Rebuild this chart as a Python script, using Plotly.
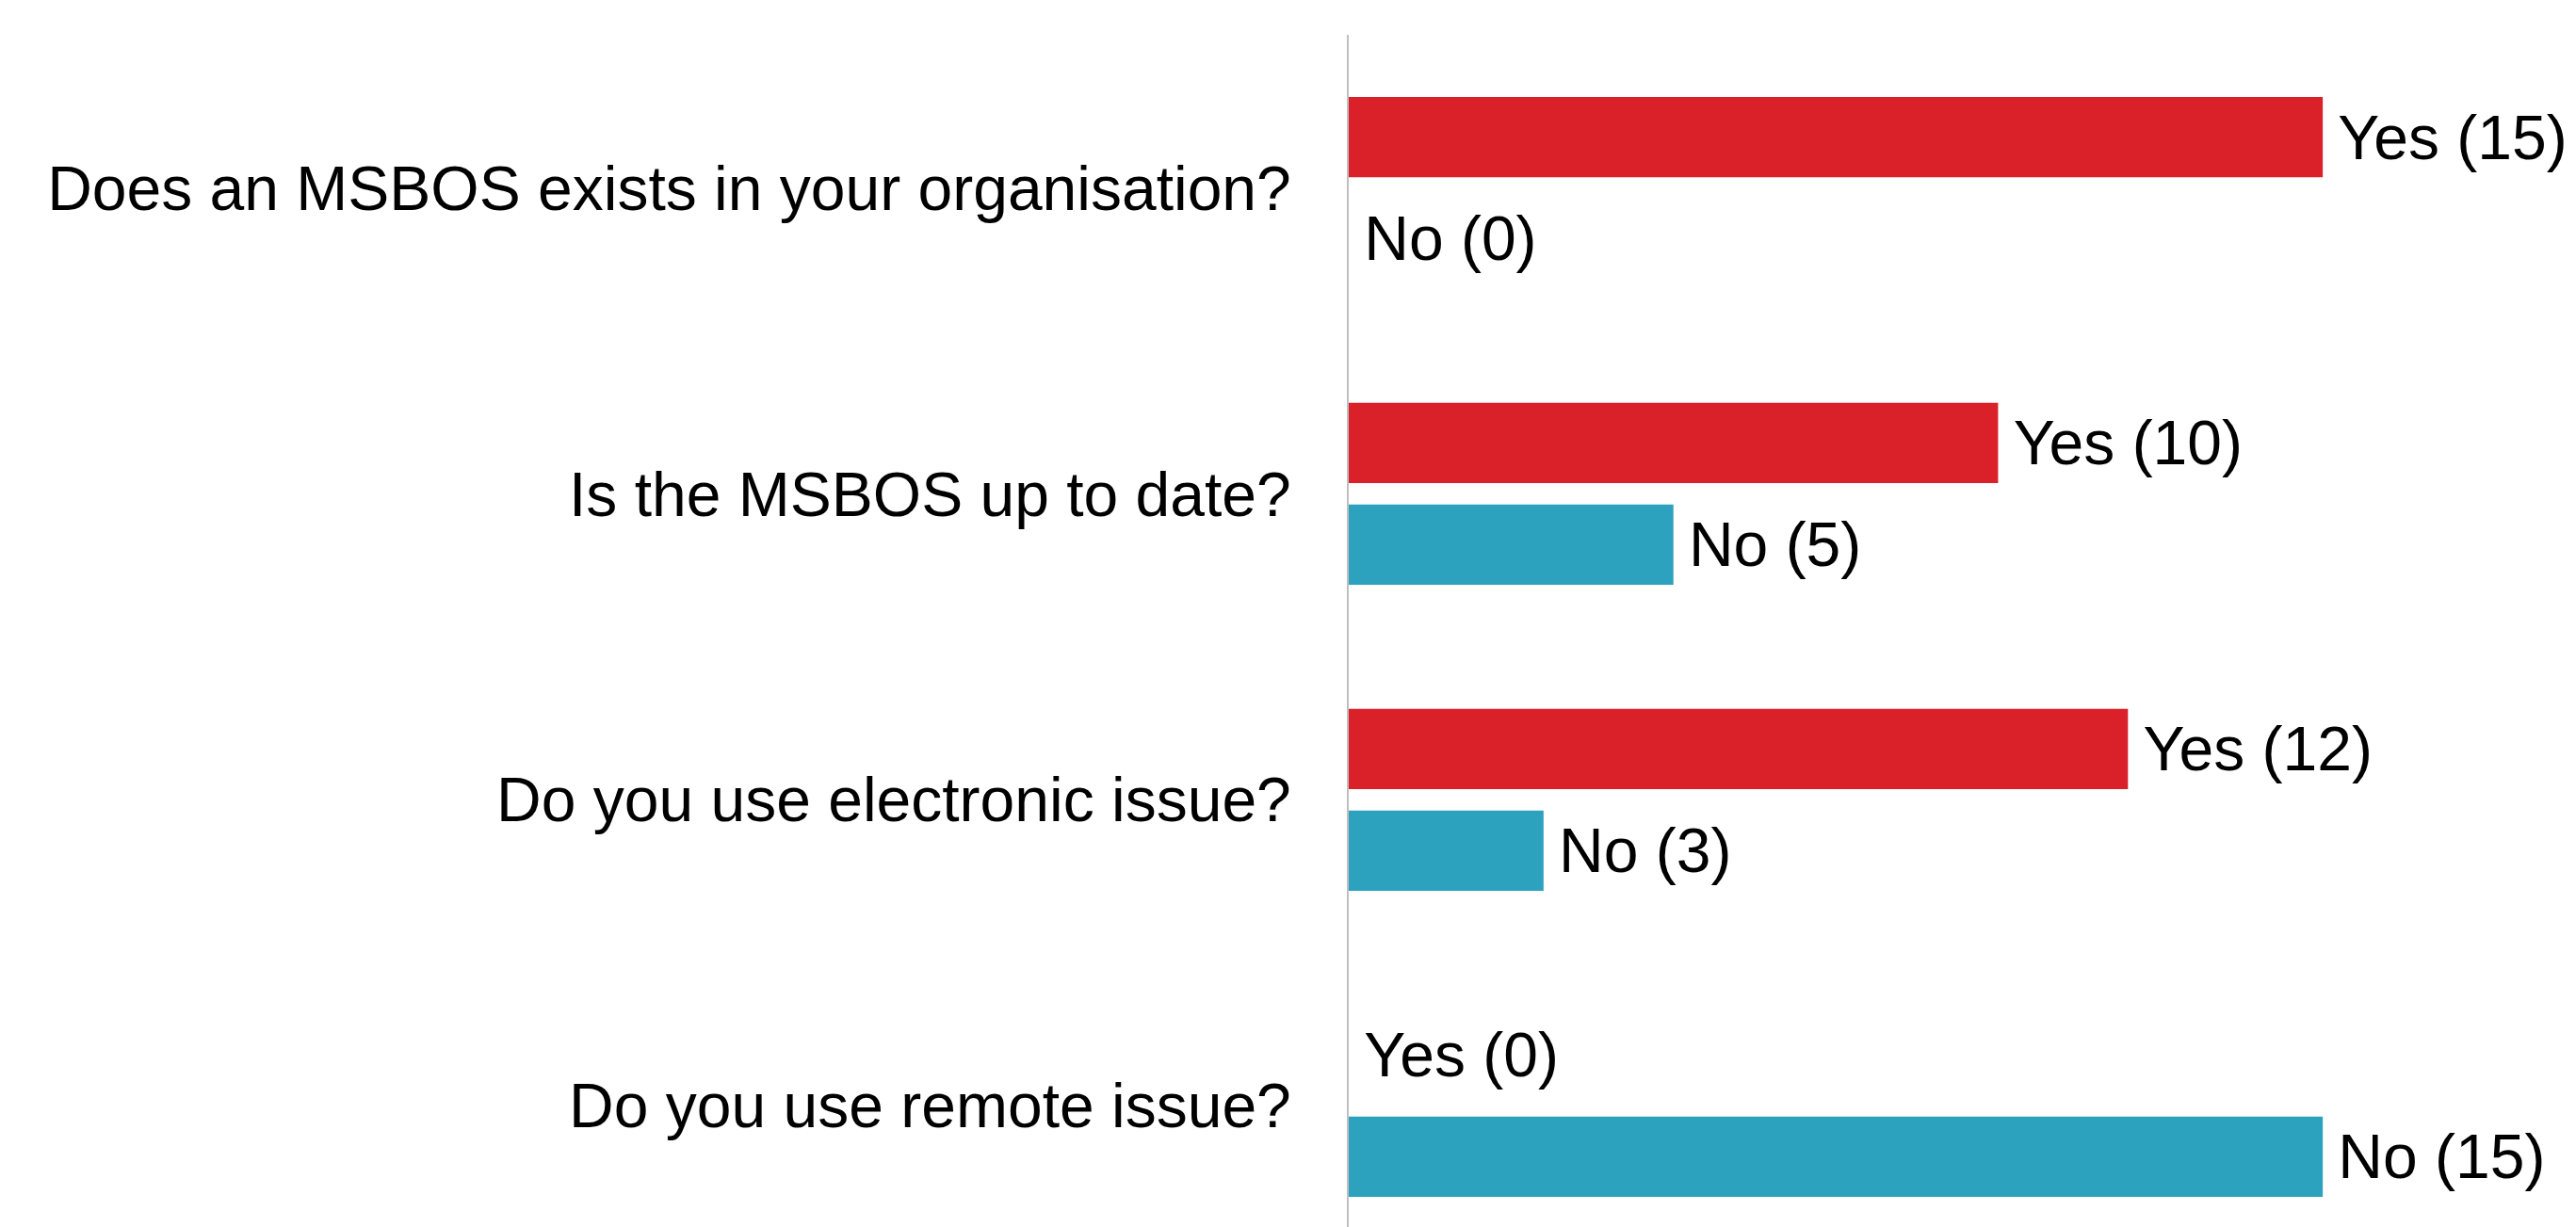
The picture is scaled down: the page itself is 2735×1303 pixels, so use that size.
import plotly.graph_objects as go

questions = [
    "Does an MSBOS exists in your organisation?",
    "Is the MSBOS up to date?",
    "Do you use electronic issue?",
    "Do you use remote issue?",
]
yes_values = [15, 10, 12, 0]
no_values = [0, 5, 3, 15]

RED = "#DA2029"
TEAL = "#2CA2BF"
FONT = "Liberation Sans, Arial, sans-serif"
SP = "\u2009"
FS = 66

fig = go.Figure()
fig.add_trace(go.Bar(
    y=questions, x=yes_values, orientation="h", name="Yes",
    marker=dict(color=RED, line=dict(width=0)),
    text=[f"{SP}Yes ({v})" for v in yes_values],
    textposition="outside", cliponaxis=False,
    textfont=dict(family=FONT, size=FS, color="black"),
))
fig.add_trace(go.Bar(
    y=questions, x=no_values, orientation="h", name="No",
    marker=dict(color=TEAL, line=dict(width=0)),
    text=[f"{SP}No ({v})" for v in no_values],
    textposition="outside", cliponaxis=False,
    textfont=dict(family=FONT, size=FS, color="black"),
))

fig.update_layout(
    width=2735, height=1303,
    margin=dict(l=1432, r=0, t=37, b=0),
    paper_bgcolor="white", plot_bgcolor="white",
    barmode="group", bargap=0.336, bargroupgap=0.21,
    showlegend=False,
    font=dict(family=FONT, size=FS, color="black"),
)
fig.update_xaxes(range=[0, 18.9], visible=False, showgrid=False, zeroline=False)
fig.update_yaxes(
    categoryorder="array", categoryarray=questions,
    range=[3.396, -0.5],
    showgrid=False, zeroline=False,
    showline=True, linecolor="#BFBFBF", linewidth=2,
    ticks="", ticklabelstandoff=46,
    tickfont=dict(family=FONT, size=FS, color="black"),
)

fig.write_html("out.html")
